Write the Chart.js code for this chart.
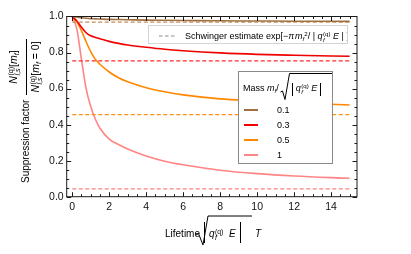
<!DOCTYPE html>
<html lang="en">
  <head>
    <meta charset="UTF-8" />
    <title>Suppression factor vs lifetime</title>
    <script src="https://cdn.jsdelivr.net/npm/chart.js@4.4.1/dist/chart.umd.min.js"></script>
    <style>
      body { margin: 0; background: #fff; }
      #wrap { position: relative; width: 411px; height: 254px; overflow: hidden;
        font-family: "Liberation Sans", Arial, sans-serif; color: #000; }
      canvas { position: absolute; left: 0; top: 0; }
      .abs { position: absolute; white-space: nowrap; line-height: 1; }
      .sm { font-size: 0.68em; position: relative; line-height: 0; }
      .up { top: -0.5em; }
      .dn { top: 0.3em; }
      .st { display: inline-flex; flex-direction: column; font-size: 0.68em; line-height: 1;
        vertical-align: 0.5em; margin-left: 0.5px; }
      i { font-style: italic; }
      #sbox { left: 148px; top: 25px; width: 198px; height: 17px; border: 1px solid #d4d4d4;
        background: rgba(255,255,255,0.92); overflow: hidden; font-size: 9px; }
      #mbox { left: 238px; top: 71px; width: 93px; height: 91px; border: 1px solid #8a8a8a;
        background: #fff; font-size: 9px; }
      .bars { position: absolute; border-left: 1px solid #000; border-right: 1px solid #000; }
    </style>
  </head>
  <body>
    <div id="wrap">
      <canvas id="chart" width="411" height="254"></canvas>

      <!-- y axis title, rotated -->
      <div class="abs" style="left:-60px; top:75px; width:172px; height:44px; transform:rotate(-90deg);
           display:flex; align-items:center; font-size:10px;">
        <span>Suppression factor</span>
        <span style="display:inline-flex; flex-direction:column; align-items:center; margin-left:5px; font-size:10.5px;">
          <span style="padding:0 2px 3px 2px;"><i>N</i><span class="st"><span>(q)</span><span><i>l</i>,<i>s</i></span></span>[<i>m</i><span class="sm dn"><i>f</i></span>]</span>
          <span style="border-top:1px solid #000; padding:3px 2px 0 2px;"><i>N</i><span class="st"><span>(q)</span><span><i>l</i>,<i>s</i></span></span>[<i>m</i><span class="sm dn"><i>f</i></span> = 0]</span>
        </span>
      </div>

      <!-- x axis title -->
      <span class="abs" style="left:165px; top:228.5px; font-size:10px;">Lifetime</span>
      <div class="bars" style="left:204px; top:222px; width:35px; height:21px;"></div>
      <span class="abs" style="left:209px; top:228.5px; font-size:10px;"><i>q</i><span class="st"><span>(q)</span><span><i>f</i></span></span></span>
      <span class="abs" style="left:229px; top:228.5px; font-size:10px;"><i>E</i></span>
      <span class="abs" style="left:255px; top:228.5px; font-size:10px;"><i>T</i></span>
      <svg class="abs" style="left:0; top:0;" width="411" height="254">
        <polyline points="196,235 198.5,233.5 203,245 208,216 252,216" fill="none" stroke="#000" stroke-width="1" />
      </svg>

      <!-- Schwinger legend -->
      <div id="sbox" class="abs">
        <svg class="abs" style="left:10px; top:9px;" width="16" height="2">
          <line x1="0" y1="1" x2="16" y2="1" stroke="#8c8c8c" stroke-width="1" stroke-dasharray="3.5,2.5" />
        </svg>
        <span class="abs" style="left:36px; top:5px;">Schwinger estimate exp[−<i>π</i>&#8202;<i>m</i><span class="sm dn"><i>f</i></span><span class="sm up">2</span>/ | <i>q</i><span class="st"><span>(q)</span><span><i>f</i></span></span> <i>E</i> | ]</span>
      </div>

      <!-- mass legend -->
      <div id="mbox" class="abs">
        <div class="abs" style="left:4px; top:1px; width:89px; height:27px; display:flex; align-items:flex-end;">
          <span style="margin-bottom:7px;">Mass <i>m</i><span class="sm dn"><i>f</i></span>/</span>
          <svg width="10" height="27" style="margin-left:1px; flex:none;">
            <polyline points="0.5,19 2.5,18 5,26.5 9.5,0.5 10,0.5" fill="none" stroke="#000" stroke-width="1" />
          </svg>
          <span style="align-self:flex-start; flex:1; height:26px; border-top:1px solid #000; padding:5px 3px 0 2px;
                display:flex; align-items:center; box-sizing:border-box;">
            <span style="border-left:1px solid #000; border-right:1px solid #000; height:13px; padding:0 3px;
                  display:flex; align-items:center;"><span><i>q</i><span class="st"><span>(q)</span><span><i>f</i></span></span> <i>E</i></span></span>
          </span>
        </div>
        <div id="rows"></div>
      </div>
    </div>

    <script>
      // lifetime grid the curves were read at
      const times = [0, 0.25, 0.5, 0.75, 1, 1.25, 1.5, 2, 2.5, 3, 4, 5, 6, 8, 10, 12, 15];

      // suppression factor per mass
      const mass01 = [1, 0.997, 0.993, 0.99, 0.988, 0.987, 0.986, 0.984, 0.983, 0.982, 0.98, 0.979, 0.978, 0.976, 0.975, 0.974, 0.973];
      const mass03 = [1, 0.975, 0.94, 0.91, 0.893, 0.884, 0.877, 0.862, 0.851, 0.842, 0.829, 0.818, 0.81, 0.798, 0.79, 0.785, 0.779];
      const mass05 = [1, 0.97, 0.92, 0.86, 0.805, 0.762, 0.735, 0.692, 0.66, 0.638, 0.605, 0.582, 0.565, 0.543, 0.532, 0.521, 0.509];
      const mass1 = [1, 0.93, 0.76, 0.6, 0.5, 0.43, 0.38, 0.32, 0.29, 0.265, 0.226, 0.197, 0.177, 0.147, 0.128, 0.115, 0.102];

      // Schwinger estimate levels (dashed)
      const schwinger = [0.969, 0.754, 0.456, 0.043];
      const massLabels = ["0.1", "0.3", "0.5", "1"];
      const curves = [mass01, mass03, mass05, mass1];

      const xTicks = [0, 2, 4, 6, 8, 10, 12, 14];
      const yTicks = [0, 0.2, 0.4, 0.6, 0.8, 1.0];

      const solidColors = ["#a2703e", "#f00000", "#ff8800", "#ff8585"];
      const dashColors = ["#c09060", "#ff2a2a", "#ff9010", "#ff8080"];

      const datasets = [];
      curves.forEach((vals, k) => {
        datasets.push({
          data: times.map((t, i) => ({ x: t, y: vals[i] })),
          borderColor: solidColors[k],
          borderWidth: 1.6,
          pointRadius: 0,
          cubicInterpolationMode: "monotone"
        });
        datasets.push({
          data: [{ x: 0, y: schwinger[k] }, { x: 15, y: schwinger[k] }],
          borderColor: dashColors[k],
          borderWidth: 1.3,
          borderDash: [4, 2.5],
          pointRadius: 0
        });
      });

      // legend rows
      const rows = document.getElementById("rows");
      massLabels.forEach((lab, k) => {
        const top = 38 + k * 15;
        rows.innerHTML +=
          `<div class="abs" style="left:5px; top:${top - 1}px; width:14px; height:2px; background:${solidColors[k]};"></div>` +
          `<span class="abs" style="left:38px; top:${top - 4.5}px;">${lab}</span>`;
      });

      // Mathematica-style frame with inward ticks on all sides
      const frameTicks = {
        id: "frameTicks",
        afterDatasetsDraw(chart) {
          const { ctx, chartArea: a, scales } = chart;
          ctx.save();
          ctx.strokeStyle = "#1a1a1a";
          ctx.lineWidth = 1;
          ctx.strokeRect(a.left, a.top, a.right - a.left, a.bottom - a.top);
          ctx.beginPath();
          for (let v = 0; v <= 15.001; v += 0.5) {
            const px = Math.round(scales.x.getPixelForValue(v)) + 0.5;
            const len = Math.abs(v % 2) < 1e-6 ? 4.5 : 2.5;
            ctx.moveTo(px, a.bottom); ctx.lineTo(px, a.bottom - len);
            ctx.moveTo(px, a.top); ctx.lineTo(px, a.top + len);
          }
          for (let v = 0; v <= 1.0001; v += 0.05) {
            const py = Math.round(scales.y.getPixelForValue(v)) + 0.5;
            const major = Math.abs(v * 5 - Math.round(v * 5)) < 1e-6;
            const len = major ? 4.5 : 2.5;
            ctx.moveTo(a.left, py); ctx.lineTo(a.left + len, py);
            ctx.moveTo(a.right, py); ctx.lineTo(a.right - len, py);
          }
          ctx.stroke();
          ctx.restore();
        }
      };

      new Chart(document.getElementById("chart"), {
        type: "line",
        data: { datasets },
        options: {
          responsive: false,
          animation: false,
          events: [],
          layout: { padding: { left: 0, top: 16.5, right: 54, bottom: 0 } },
          plugins: { legend: { display: false }, tooltip: { enabled: false } },
          scales: {
            x: {
              type: "linear",
              min: -0.3,
              max: 15.4,
              grid: { display: false, drawTicks: false },
              border: { display: false },
              afterBuildTicks: (s) => { s.ticks = xTicks.map((v) => ({ value: v })); },
              afterFit: (s) => { s.height = 57.3; },
              ticks: {
                color: "#111",
                font: { family: "Liberation Sans", size: 10.5 },
                padding: 4,
                maxRotation: 0,
                autoSkip: false
              }
            },
            y: {
              min: 0,
              max: 1,
              grid: { display: false, drawTicks: false },
              border: { display: false },
              afterBuildTicks: (s) => { s.ticks = yTicks.map((v) => ({ value: v })); },
              afterFit: (s) => { s.width = 66.7; },
              ticks: {
                color: "#111",
                font: { family: "Liberation Sans", size: 10.5 },
                padding: 3,
                autoSkip: false,
                callback: (v) => v.toFixed(1)
              }
            }
          }
        },
        plugins: [frameTicks]
      });
    </script>
  </body>
</html>
